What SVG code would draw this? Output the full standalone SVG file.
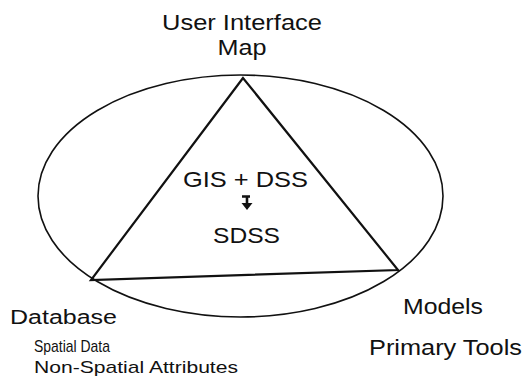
<svg xmlns="http://www.w3.org/2000/svg" width="526" height="384" viewBox="0 0 526 384">
  <style>
    text { font-family: "Liberation Sans", Arial, sans-serif; fill: #111; }
    .big { font-size: 22px; }
    .mid { font-size: 20px; }
    .small { font-size: 17px; }
    .outline { fill: none; stroke: #111; stroke-width: 1.6; }
    .tri { fill: none; stroke: #111; stroke-width: 2.2; stroke-linejoin: miter; }
  </style>

  <g id="connectors">
    <ellipse class="outline" cx="240.5" cy="196" rx="202.5" ry="121"/>
    <polygon class="tri" points="243,78 91,280 398,270"/>
  </g>

  <g id="user-interface">
    <text class="big" x="242" y="30" text-anchor="middle" textLength="160" lengthAdjust="spacingAndGlyphs">User Interface</text>
    <text class="big" x="242" y="55" text-anchor="middle" textLength="49" lengthAdjust="spacingAndGlyphs">Map</text>
  </g>

  <g id="core">
    <text class="big" x="245.5" y="187" text-anchor="middle" textLength="125" lengthAdjust="spacingAndGlyphs">GIS + DSS</text>
    <!-- small downward arrow between the two labels -->
    <path d="M242,196.5 H250 M247,196 V204" stroke="#111" stroke-width="2.6" fill="none"/>
    <path d="M241.5,203 L252.5,203 L247,210 Z" fill="#111"/>
    <text class="big" x="246.5" y="243" text-anchor="middle" textLength="67" lengthAdjust="spacingAndGlyphs">SDSS</text>
  </g>

  <g id="database">
    <text class="mid" x="10" y="324" textLength="107" lengthAdjust="spacingAndGlyphs">Database</text>
    <text class="small" x="34" y="352" textLength="76" lengthAdjust="spacingAndGlyphs">Spatial Data</text>
    <text class="small" x="34" y="373" textLength="204" lengthAdjust="spacingAndGlyphs">Non-Spatial Attributes</text>
  </g>

  <g id="models">
    <text class="big" x="403" y="314" textLength="80" lengthAdjust="spacingAndGlyphs">Models</text>
    <text class="big" x="369" y="355" textLength="153" lengthAdjust="spacingAndGlyphs">Primary Tools</text>
  </g>
</svg>
